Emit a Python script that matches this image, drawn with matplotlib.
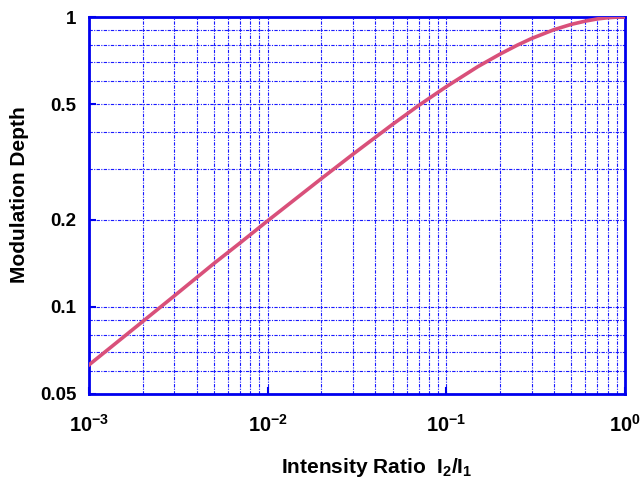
import numpy as np
import matplotlib.pyplot as plt
from matplotlib.ticker import LogLocator, FixedLocator, NullFormatter

# Intensity ratio I2/I1 and modulation depth
ratio = [0.001, 0.002, 0.003, 0.005, 0.007, 0.01, 0.02, 0.03, 0.05, 0.07,
         0.1, 0.15, 0.2, 0.25, 0.3, 0.4, 0.5, 0.6, 0.7, 0.8, 0.9, 1.0]
depth = [0.063, 0.089, 0.109, 0.141, 0.166, 0.198, 0.277, 0.336, 0.426, 0.495,
         0.575, 0.674, 0.745, 0.800, 0.843, 0.904, 0.943, 0.968, 0.985, 0.994, 0.999, 1.0]

y_ticks = [0.05, 0.1, 0.2, 0.5, 1]
y_labels = ['0.05', '0.1', '0.2', '0.5', '1']

plt.rcParams['font.family'] = ['Liberation Sans', 'DejaVu Sans']
plt.rcParams['font.weight'] = 'bold'
plt.rcParams['mathtext.fontset'] = 'custom'
plt.rcParams['mathtext.rm'] = 'Liberation Sans:bold'
plt.rcParams['mathtext.default'] = 'rm'

fig = plt.figure(figsize=(6.42, 4.82), dpi=100)
ax = fig.add_axes([0.1386, 0.1826, 0.8349, 0.7821])

ax.plot(ratio, depth, color='#d9507a', lw=2.6, zorder=3)

ax.set_xscale('log')
ax.set_yscale('log')
ax.set_xlim(1e-3, 1)
ax.set_ylim(0.05, 1)

ax.xaxis.set_major_locator(LogLocator(base=10, numticks=10))
ax.xaxis.set_minor_locator(LogLocator(base=10, subs=np.arange(2, 10), numticks=10))
ax.xaxis.set_minor_formatter(NullFormatter())

ax.yaxis.set_major_locator(FixedLocator(y_ticks))
ax.set_yticklabels(y_labels)
minor_y = [0.06, 0.07, 0.08, 0.09, 0.3, 0.4, 0.6, 0.7, 0.8, 0.9]
ax.yaxis.set_minor_locator(FixedLocator(minor_y))
ax.yaxis.set_minor_formatter(NullFormatter())

grid_ls = (0, (3, 1.2, 1, 1.2))
ax.grid(True, which='both', color='#1a1aff', lw=0.8, ls=grid_ls)

for s in ax.spines.values():
    s.set_color('#0000ee')
    s.set_linewidth(2)

ax.tick_params(which='major', direction='in', length=5, width=1.5, color='#0000ee')
ax.tick_params(axis='y', labelsize=13.5, pad=9)
ax.tick_params(axis='x', labelsize=14.5, pad=14)
ax.tick_params(which='minor', length=0)

ax.set_xlabel('Intensity Ratio  I$_2$/I$_1$', fontsize=15, fontweight='bold')
ax.set_ylabel('Modulation Depth', fontsize=15, fontweight='bold')
ax.xaxis.set_label_coords(0.536, -0.165)
ax.yaxis.set_label_coords(-0.112, 0.53)

fig.savefig('out.png', dpi=100)
